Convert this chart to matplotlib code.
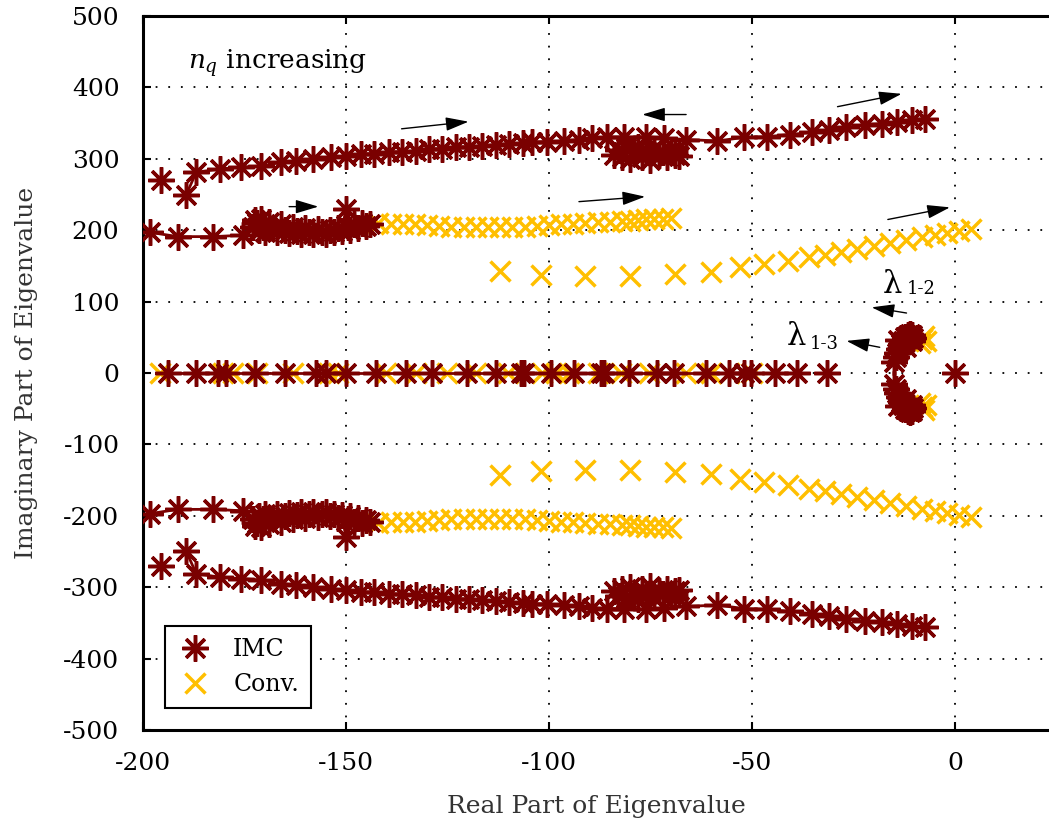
import numpy as np
import matplotlib
matplotlib.use("Agg")
import matplotlib.pyplot as plt
from matplotlib.lines import Line2D

plt.rcParams['font.family'] = ['DejaVu Serif']
plt.rcParams['mathtext.fontset'] = 'dejavuserif'
plt.rcParams['axes.unicode_minus'] = False

IMC_COL = '#7a0000'
CONV_COL = '#ffbf00'

# IMC, branch near +/-300 (upper half; lower half is the conjugate)
imc_a_x = [-189.4, -186.9, -181, -175.8, -170.9, -165.9, -162.2, -158, -153.8, -150.1,
           -146.4, -143.2, -139.5, -136.3, -132.8, -129.6, -126.4, -123, -119.8, -116.5,
           -113, -109.9, -106.5, -104.2, -100.5, -96.3, -92.6, -89.4, -85.7, -81.5,
           -76, -71.6, -66.2, -58.5, -51.9, -46.2, -40.7, -35.3, -30.9, -26.7,
           -22.2, -18, -14.3, -10.6, -7.4]
imc_a_y = [249, 281, 286, 288, 290, 295, 297, 300, 302, 304,
           307, 307, 309, 310, 311, 314, 314, 316, 317, 318,
           320, 321, 322, 323, 324, 325, 327, 329, 330, 330,
           331, 329, 327, 325, 330, 331, 334, 337, 340, 344,
           348, 349, 352, 355, 356]
imc_iso_x = [-195.6]
imc_iso_y = [270]

# IMC cluster near -80 +/- 305j
imc_c_x = [-84, -83, -82, -81, -80, -79, -78, -77, -76, -75, -74, -73, -72, -71, -70, -69, -68]
imc_c_y = [306, 312, 302, 315, 300, 310, 316, 303, 311, 299, 314, 305, 309, 302, 311, 306, 304]

# IMC, branch near +/-200
imc_b_x = [-198.3, -191.4, -182.7, -175.3, -173, -172.5, -172, -171.5, -171, -170.5,
           -170, -169, -168, -167, -166, -165, -164, -163, -162, -161,
           -160, -159, -158, -157, -156, -155, -154, -153, -152, -151,
           -150, -149.5, -149, -148, -147, -146, -145, -144]
imc_b_y = [197, 191, 191, 193, 205, 214, 210, 200, 215, 205,
           198, 212, 203, 197, 208, 200, 196, 205, 199, 195,
           203, 198, 195, 202, 197, 194, 200, 197, 203, 199,
           230, 205, 200, 208, 203, 210, 206, 209]

# IMC, real axis
imc_r_x = [-193.8, -186.9, -181.5, -179.5, -172.3, -164.9, -157.5, -155, -150.1, -142.5,
           -135.3, -128.9, -120.2, -113.1, -106.9, -106.2, -99.5, -93.8, -87.2, -86.5,
           -80.2, -73.3, -69.1, -61.2, -55.6, -51.9, -50.1, -44.4, -38.8]
imc_r_iso = [-31.4, 0.0]

# IMC, lambda cluster (upper half)
imc_l_x = [-15.0, -14.6, -14.2, -13.8, -13.3, -12.8, -12.2, -11.6, -11.0, -10.5, -10.2, -10.6, -13.0, -12.0, -14.0]
imc_l_y = [16, 22, 28, 34, 40, 45, 50, 53, 55, 53, 49, 45, 42, 36, 46]

# Conv., branch near +/-210
conv_a_x = [-142, -139, -136, -133, -130, -127, -124, -121, -118, -115, -112, -109, -106, -103,
            -100, -97, -94, -91, -88, -85, -82, -80, -78, -76, -74, -72, -70]
conv_a_y = [210, 209, 208, 208, 207, 206, 205, 205, 204, 204, 204, 205, 205, 206,
            207, 208, 209, 210, 211, 212, 213, 213, 214, 215, 215, 216, 217]

# Conv., branch from ~140 up to ~200
conv_b_x = [-112, -102, -91, -80, -69, -60, -53, -47, -41, -36, -32, -28, -24, -20,
            -16, -12, -8, -5, -2, 1, 4]
conv_b_y = [143, 137, 136, 136, 139, 142, 148, 152, 157, 162, 165, 169, 173, 178,
            182, 186, 190, 193, 196, 199, 201]

# Conv., real axis
conv_r_x = [-195.8, -180.2, -177.8, -172, -163, -154.3, -151.9, -140.2, -132.8, -125,
            -118, -110, -101.7, -98.3, -95, -88, -82.2, -75.3, -66.2, -60, -55.6, -50]

# Conv., lambda cluster (upper half)
conv_l_x = [-8.0, -7.0, -7.5, -8.5]
conv_l_y = [48, 45, 52, 42]

fig = plt.figure(figsize=(10.49, 8.25), dpi=100)
ax = fig.add_axes([143 / 1049, 95 / 825, 906 / 1049, 714 / 825])

ast = (8, 2, 0)
ms_a = 19
ms_x = 14
mew = 2.5

def conv(xs, ys):
    xs = np.array(xs); ys = np.array(ys)
    ax.plot(xs, ys, ls='none', marker='x', ms=ms_x, mew=mew, color=CONV_COL, zorder=3)
    ax.plot(xs, -ys, ls='none', marker='x', ms=ms_x, mew=mew, color=CONV_COL, zorder=3)

def imc(xs, ys, line=True):
    xs = np.array(xs); ys = np.array(ys)
    ls = '-' if line else 'none'
    for s in (1, -1):
        ax.plot(xs, s * ys, ls=ls, lw=2, marker=ast, ms=ms_a, mew=mew, color=IMC_COL, zorder=4)

# conv drawn first, IMC on top
conv(conv_a_x, conv_a_y)
conv(conv_b_x, conv_b_y)
ax.plot(conv_r_x, np.zeros(len(conv_r_x)), ls='none', marker='x', ms=ms_x, mew=mew, color=CONV_COL, zorder=3)
conv(conv_l_x, conv_l_y)

imc(imc_a_x, imc_a_y)
imc(imc_iso_x, imc_iso_y, line=False)
imc(imc_c_x, imc_c_y, line=False)
imc(imc_b_x, imc_b_y)
ax.plot(imc_r_x, np.zeros(len(imc_r_x)), ls='-', lw=2, marker=ast, ms=ms_a, mew=mew, color=IMC_COL, zorder=4)
ax.plot(imc_r_iso, np.zeros(len(imc_r_iso)), ls='none', marker=ast, ms=ms_a, mew=mew, color=IMC_COL, zorder=4)
imc(imc_l_x, imc_l_y, line=False)

# arrows
arrows = [((-136.3, 342), (-119.8, 352)),
          ((-28.9, 373), (-13.1, 391)),
          ((-66.2, 362), (-77, 362)),
          ((-92.6, 240), (-76.3, 247)),
          ((-16.5, 215), (-1.2, 232)),
          ((-164, 233), (-156.8, 233)),
          ((-11.9, 84), (-20.5, 92)),
          ((-18.5, 36), (-26.7, 45))]
for tail, head in arrows:
    ax.annotate('', xy=head, xytext=tail,
                arrowprops=dict(arrowstyle='-|>,head_length=1.0,head_width=0.3',
                                color='black', lw=1.0, shrinkA=0, shrinkB=0,
                                mutation_scale=14), zorder=5)

ax.text(-188.9, 426, r'$n_q$ increasing', fontsize=19, va='baseline', ha='left')
ax.text(-17.8, 112, 'λ', fontsize=22, va='baseline', ha='left')
ax.text(-11.9, 110, '1-2', fontsize=13, va='baseline', ha='left')
ax.text(-41.5, 39, 'λ', fontsize=22, va='baseline', ha='left')
ax.text(-35.8, 33, '1-3', fontsize=13, va='baseline', ha='left')

ax.set_xlim(-200, 23.2)
ax.set_ylim(-500, 500)
ax.set_xticks([-200, -150, -100, -50, 0])
ax.set_yticks(np.arange(-500, 501, 100))
ax.grid(True, color='black', linestyle=(0, (1, 6)), lw=1.3)
ax.tick_params(direction='in', length=6, width=1.5, labelsize=18, top=True, right=False)
ax.tick_params(axis='y', pad=17)
ax.tick_params(axis='x', pad=16)
for side in ('left', 'bottom', 'top'):
    ax.spines[side].set_linewidth(2.2)
ax.spines['right'].set_visible(False)

ax.set_xlabel('Real Part of Eigenvalue', fontsize=18, color='#333333', labelpad=14)
ax.set_ylabel('Imaginary Part of Eigenvalue', fontsize=18, color='#333333', labelpad=18)

handles = [Line2D([], [], ls='none', marker=ast, ms=ms_a, mew=mew, color=IMC_COL),
           Line2D([], [], ls='none', marker='x', ms=ms_x, mew=mew, color=CONV_COL)]
leg = ax.legend(handles, ['IMC', 'Conv.'], loc='lower left', bbox_to_anchor=(0.024, 0.031),
                borderaxespad=0, fontsize=17, fancybox=False, framealpha=1,
                edgecolor='black', handletextpad=0.8, borderpad=0.5, labelspacing=0.5,
                handlelength=1.6)
leg.get_frame().set_linewidth(1.5)
leg.set_zorder(6)

fig.savefig('out.png', dpi=100)
